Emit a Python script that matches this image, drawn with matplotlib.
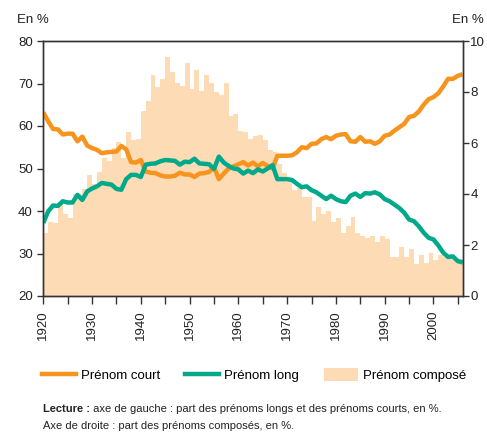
import numpy as np
import matplotlib
matplotlib.use("Agg")
import matplotlib.pyplot as plt
from matplotlib.lines import Line2D
from matplotlib.patches import Patch

plt.rcParams['font.family'] = ['Liberation Sans', 'DejaVu Sans']

# ---- data ----
bar_years = list(range(1920, 2006))
compose = [2.48, 2.91, 2.87, 3.7, 3.2, 3.07, 4.0, 4.0, 4.2, 4.75,
           4.4, 4.85, 5.4, 5.3, 5.8, 6.05, 5.4, 6.45, 6.1, 6.17,
           7.27, 7.66, 8.67, 8.21, 8.51, 9.39, 8.8, 8.34, 8.24, 9.15,
           8.13, 8.86, 8.05, 8.67, 8.37, 8.01, 7.9, 8.37, 7.06, 7.14,
           6.47, 6.44, 6.17, 6.27, 6.31, 6.12, 5.73, 5.63, 5.18, 4.84,
           4.58, 4.17, 4.25, 3.9, 3.9, 2.95, 3.5, 3.21, 3.35, 2.91,
           3.05, 2.48, 2.75, 3.11, 2.48, 2.35, 2.26, 2.35, 2.1, 2.35,
           2.22, 1.54, 1.54, 1.91, 1.54, 1.84, 1.25, 1.61, 1.31, 1.7,
           1.41, 1.61, 1.52, 1.48, 1.48, 1.44]

line_years = list(range(1920, 2007))
court = [63.2, 61.1, 59.3, 59.2, 58.0, 58.2, 58.2, 56.4, 57.5, 55.4,
         54.8, 54.4, 53.6, 53.8, 53.9, 54.0, 55.3, 54.5, 51.5, 51.4,
         52.0, 49.3, 49.0, 48.9, 48.4, 48.1, 48.1, 48.3, 49.0, 48.6,
         48.6, 48.0, 48.8, 48.9, 49.2, 50.3, 47.5, 48.8, 50.0, 50.5,
         51.0, 51.5, 50.7, 51.4, 50.5, 51.3, 50.6, 50.0, 53.0, 53.0,
         53.0, 53.1, 53.8, 55.0, 54.8, 55.8, 55.9, 56.9, 57.4, 56.9,
         57.7, 58.0, 58.1, 56.4, 56.3, 57.4, 56.3, 56.4, 55.8, 56.4,
         57.7, 58.0, 58.9, 59.7, 60.5, 62.1, 62.4, 63.4, 65.0, 66.3,
         66.8, 67.7, 69.3, 71.1, 71.1, 71.8, 72.2]
long_ = [37.2, 39.9, 41.3, 41.2, 42.3, 42.0, 42.0, 43.8, 42.6, 44.6,
         45.3, 45.8, 46.6, 46.4, 46.2, 45.2, 45.0, 47.5, 48.5, 48.5,
         48.0, 50.9, 51.1, 51.2, 51.7, 52.0, 51.9, 51.8, 50.9, 51.6,
         51.5, 52.3, 51.2, 51.1, 51.0, 49.9, 52.8, 51.4, 50.6, 50.0,
         49.8, 48.8, 49.5, 48.9, 49.8, 49.3, 50.0, 50.8, 47.5, 47.5,
         47.5, 47.3, 46.4, 45.6, 45.8, 44.9, 44.4, 43.6, 42.8, 43.6,
         42.8, 42.3, 42.1, 43.6, 44.1, 43.3, 44.2, 44.1, 44.4, 43.9,
         42.8, 42.3, 41.5, 40.7, 39.6, 38.0, 37.6, 36.4, 34.9, 33.7,
         33.3, 31.9, 30.2, 29.2, 29.3, 28.2, 27.9]

left_ticks = [20, 30, 40, 50, 60, 70, 80]
right_ticks = [0, 2, 4, 6, 8, 10]
x_major = list(range(1920, 2001, 10))
x_minor = list(range(1925, 2006, 10))

c_court = '#F7941D'
c_long = '#00A98A'
c_comp = '#FDDBB5'
c_axis = '#333333'
c_text = '#222222'

fig = plt.figure(figsize=(4.87, 4.33), dpi=100)
ax = fig.add_axes([43.3/487, 1-296/433, (462.7-43.3)/487, (296-41)/433])
ax2 = ax.twinx()

ax2.bar(bar_years, compose, width=1.0, align='edge', color=c_comp, linewidth=0)
ax.plot(line_years, court, color=c_court, lw=3.2, solid_capstyle='butt', solid_joinstyle='round')
ax.plot(line_years, long_, color=c_long, lw=3.2, solid_capstyle='butt', solid_joinstyle='round')

ax.set_zorder(ax2.get_zorder() + 1)
ax.patch.set_visible(False)

ax.set_xlim(1920, 2006)
ax.set_ylim(20, 80)
ax2.set_ylim(0, 10)

ax.set_yticks(left_ticks)
ax2.set_yticks(right_ticks)
ax.set_xticks(x_major)
ax.set_xticks(x_minor, minor=True)
ax.set_xticklabels([str(y) for y in x_major], rotation=90)

for a in (ax, ax2):
    for s in a.spines.values():
        s.set_color(c_axis)
        s.set_linewidth(1.0)

ax.tick_params(axis='y', direction='out', length=4.5, width=1, color=c_axis,
               labelsize=9.5, pad=3, labelcolor=c_text)
ax2.tick_params(axis='y', direction='out', length=4, width=1, color=c_axis,
                labelsize=9.5, pad=1.5, labelcolor=c_text)
ax.tick_params(axis='x', which='both', direction='out', length=5.5, width=1,
               color=c_axis, labelsize=9.5, pad=5, labelcolor=c_text)

fig.text(17/487, 1-20/433, 'En %', fontsize=9.5, va='center', ha='left', color=c_text)
fig.text(484/487, 1-20/433, 'En %', fontsize=9.5, va='center', ha='right', color=c_text)

handles = [Line2D([], [], color=c_court, lw=3.2),
           Line2D([], [], color=c_long, lw=3.2),
           Patch(facecolor=c_comp, edgecolor='none')]
labels = ['Prénom court', 'Prénom long', 'Prénom composé']
fig.legend(handles, labels, loc='center', bbox_to_anchor=(254/487, 1-375/433),
           ncol=3, frameon=False, fontsize=9.5, handlelength=2.6,
           handletextpad=0.35, columnspacing=1.9, handleheight=1.1)

t1 = fig.text(43/487, 1-409/433, 'Lecture :', fontsize=8, fontweight='bold',
              va='center', ha='left', color=c_text)
fig.add_artist(matplotlib.text.Annotation(
    ' axe de gauche : part des prénoms longs et des prénoms courts, en %.',
    xy=(1, 0.5), xycoords=t1, va='center', ha='left', fontsize=8, color=c_text))
fig.text(43/487, 1-426/433, 'Axe de droite : part des prénoms composés, en %.',
         fontsize=8, va='center', ha='left', color=c_text)

fig.savefig('out.png', dpi=100)
